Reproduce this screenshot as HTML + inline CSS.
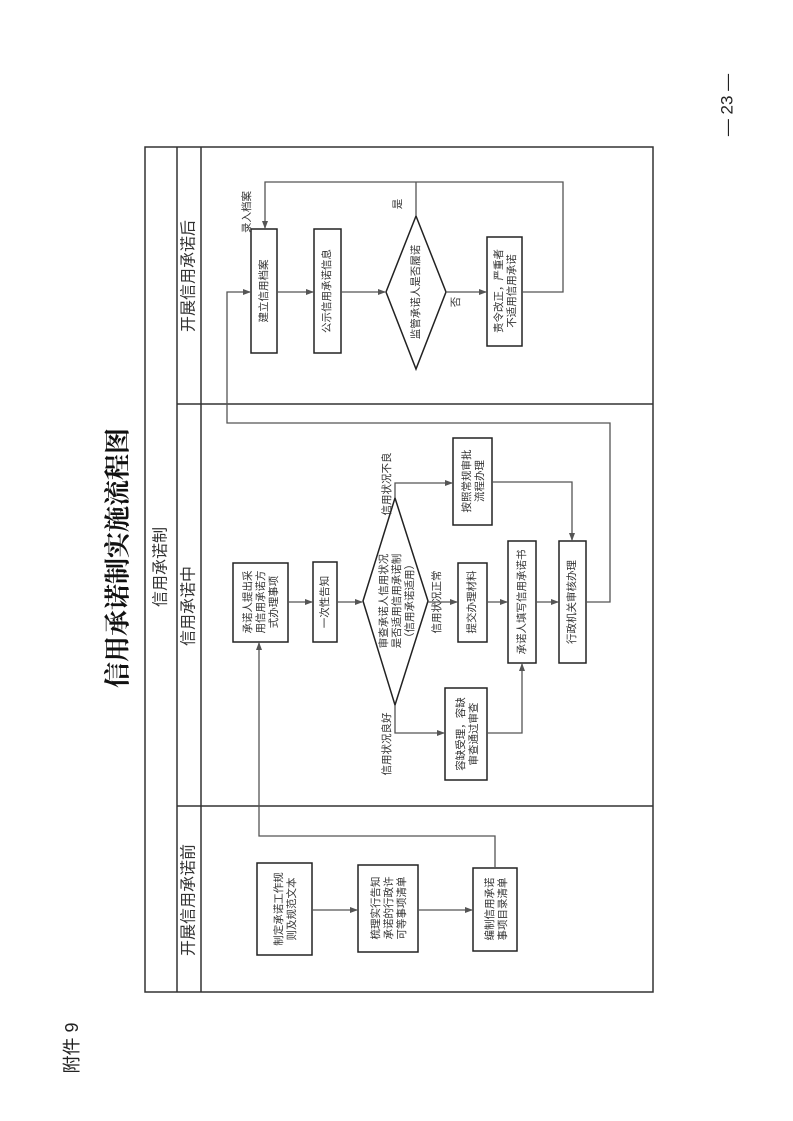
<!DOCTYPE html>
<html><head><meta charset="utf-8"><style>
html,body{margin:0;padding:0;background:#fff;}
svg{display:block;}
text{font-family:"Liberation Sans","Noto Sans CJK SC",sans-serif;fill:#333;}
</style></head><body>
<svg width="793" height="1121" viewBox="0 0 793 1121" xmlns="http://www.w3.org/2000/svg">
<defs><marker id="a" markerWidth="8" markerHeight="8" refX="7" refY="4" orient="auto" markerUnits="userSpaceOnUse"><path d="M0,1 L8,4 L0,7 Z" fill="#555"/></marker></defs>
<text transform="translate(118,558) rotate(-90)" text-anchor="middle" dominant-baseline="central" style="font-family:'Liberation Serif','Noto Serif CJK SC',serif;font-weight:bold;font-size:26px;fill:#111">信用承诺制实施流程图</text>
<text transform="translate(72,1048) rotate(-90)" text-anchor="middle" dominant-baseline="central" style="font-size:18px;fill:#222">附件 9</text>
<text transform="translate(727,105) rotate(-90)" text-anchor="middle" dominant-baseline="central" style="font-size:17px;fill:#222">— 23 —</text>
<g fill="none" stroke="#333" stroke-width="1.5">
<rect x="145" y="147" width="508" height="845"/>
<line x1="177" y1="147" x2="177" y2="992"/>
<line x1="201" y1="147" x2="201" y2="992"/>
<line x1="177" y1="404" x2="653" y2="404"/>
<line x1="177" y1="806" x2="653" y2="806"/>
</g>
<g style="font-size:16px" text-anchor="middle" dominant-baseline="central">
<text transform="translate(161,567) rotate(-90)">信用承诺制</text>
<text transform="translate(189,276) rotate(-90)">开展信用承诺后</text>
<text transform="translate(189,606) rotate(-90)">信用承诺中</text>
<text transform="translate(189,900) rotate(-90)">开展信用承诺前</text>
</g>
<g fill="#fff" stroke="#222" stroke-width="1.5">
<rect x="251" y="229" width="26" height="124"/>
<rect x="314" y="229" width="27" height="124"/>
<polygon points="386,292 416,216 446,292 416,369"/>
<rect x="487" y="237" width="35" height="109"/>
<rect x="233" y="563" width="55" height="79"/>
<rect x="313" y="562" width="24" height="80"/>
<polygon points="363,601 395,498 428,601 395,705"/>
<rect x="453" y="438" width="39" height="87"/>
<rect x="458" y="563" width="29" height="79"/>
<rect x="445" y="688" width="42" height="92"/>
<rect x="508" y="541" width="28" height="122"/>
<rect x="559" y="541" width="27" height="122"/>
<rect x="257" y="863" width="55" height="92"/>
<rect x="358" y="865" width="60" height="87"/>
<rect x="473" y="868" width="44" height="83"/>
</g>
<g fill="none" stroke="#555" stroke-width="1.3">
<line x1="277" y1="292" x2="313" y2="292" marker-end="url(#a)"/>
<line x1="341" y1="292" x2="385" y2="292" marker-end="url(#a)"/>
<line x1="446" y1="292" x2="486" y2="292" marker-end="url(#a)"/>
<polyline points="522,292 563,292 563,182 265,182 265,228" marker-end="url(#a)"/>
<line x1="416" y1="216" x2="416" y2="182"/>
<polyline points="586,602 610,602 610,423 227,423 227,292 250,292" marker-end="url(#a)"/>
<line x1="288" y1="602" x2="312" y2="602" marker-end="url(#a)"/>
<line x1="337" y1="602" x2="362" y2="602" marker-end="url(#a)"/>
<line x1="428" y1="602" x2="457" y2="602" marker-end="url(#a)"/>
<line x1="487" y1="602" x2="507" y2="602" marker-end="url(#a)"/>
<line x1="536" y1="602" x2="558" y2="602" marker-end="url(#a)"/>
<polyline points="395,498 395,483 452,483" marker-end="url(#a)"/>
<polyline points="395,705 395,733 444,733" marker-end="url(#a)"/>
<polyline points="492,482 572,482 572,540" marker-end="url(#a)"/>
<polyline points="487,733 522,733 522,664" marker-end="url(#a)"/>
<polyline points="495,868 495,836 259,836 259,643" marker-end="url(#a)"/>
<line x1="312" y1="910" x2="357" y2="910" marker-end="url(#a)"/>
<line x1="418" y1="910" x2="472" y2="910" marker-end="url(#a)"/>
</g>
<g style="font-size:10.5px" text-anchor="middle">
<text transform="translate(264,291) rotate(-90)" dominant-baseline="central">建立信用档案</text>
<text transform="translate(327,291) rotate(-90)" dominant-baseline="central">公示信用承诺信息</text>
<text transform="translate(416,292) rotate(-90)" dominant-baseline="central">监管承诺人是否履诺</text>
<text transform="translate(504,291) rotate(-90)"><tspan x="0" dy="-2">责令改正，严重者</tspan><tspan x="0" dy="13">不适用信用承诺</tspan></text>
<text transform="translate(260,602) rotate(-90)"><tspan x="0" dy="-9">承诺人提出采</tspan><tspan x="0" dy="13">用信用承诺方</tspan><tspan x="0" dy="13">式办理事项</tspan></text>
<text transform="translate(325,602) rotate(-90)" dominant-baseline="central">一次性告知</text>
<text transform="translate(396,601) rotate(-90)"><tspan x="0" dy="-9">审查承诺人信用状况</tspan><tspan x="0" dy="13">是否适用信用承诺制</tspan><tspan x="0" dy="13">（信用承诺适用）</tspan></text>
<text transform="translate(472,481) rotate(-90)"><tspan x="0" dy="-2">按照常规审批</tspan><tspan x="0" dy="13">流程办理</tspan></text>
<text transform="translate(472,602) rotate(-90)" dominant-baseline="central">提交办理材料</text>
<text transform="translate(466,734) rotate(-90)"><tspan x="0" dy="-2">容缺受理，容缺</tspan><tspan x="0" dy="13">审查通过审查</tspan></text>
<text transform="translate(522,602) rotate(-90)" dominant-baseline="central">承诺人填写信用承诺书</text>
<text transform="translate(572,602) rotate(-90)" dominant-baseline="central">行政机关审核办理</text>
<text transform="translate(284,909) rotate(-90)"><tspan x="0" dy="-2">制定承诺工作规</tspan><tspan x="0" dy="13">则及规范文本</tspan></text>
<text transform="translate(388,908) rotate(-90)"><tspan x="0" dy="-9">梳理实行告知</tspan><tspan x="0" dy="13">承诺的行政许</tspan><tspan x="0" dy="13">可等事项清单</tspan></text>
<text transform="translate(495,909) rotate(-90)"><tspan x="0" dy="-2">编制信用承诺</tspan><tspan x="0" dy="13">事项目录清单</tspan></text>
<text transform="translate(387,484) rotate(-90)" dominant-baseline="central">信用状况不良</text>
<text transform="translate(387,744) rotate(-90)" dominant-baseline="central">信用状况良好</text>
<text transform="translate(437,602) rotate(-90)" dominant-baseline="central">信用状况正常</text>
<text transform="translate(247,212) rotate(-90)" dominant-baseline="central">录入档案</text>
<text transform="translate(398,204) rotate(-90)" dominant-baseline="central">是</text>
<text transform="translate(456,302) rotate(-90)" dominant-baseline="central">否</text>
</g>
</svg>
</body></html>
